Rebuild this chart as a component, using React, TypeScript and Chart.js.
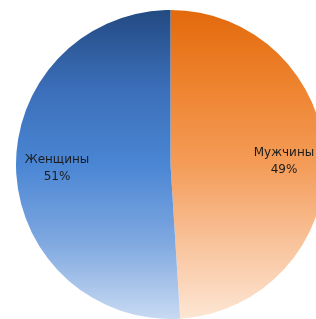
import React, { useEffect, useRef } from "react";
import { Chart, registerables } from "chart.js";

Chart.register(...registerables);

const categories = ["Мужчины", "Женщины"];
const values = [49, 51];
const percentLabels = ["49%", "51%"];

const gradientStops = [
  ["#E3690B", "#EE8430", "#F49C58", "#F8C29A", "#FDE6D4"],
  ["#234A82", "#3B6EB8", "#4A86D4", "#7FA8E0", "#C8DAF2"],
];

const labelPlugin = {
  id: "sliceLabels",
  afterDatasetsDraw(chart: any) {
    const { ctx } = chart;
    const meta = chart.getDatasetMeta(0);
    ctx.save();
    ctx.font = "12px 'DejaVu Sans', Verdana, sans-serif";
    ctx.fillStyle = "#1C1C1C";
    ctx.textAlign = "center";
    ctx.textBaseline = "middle";
    meta.data.forEach((arc: any, i: number) => {
      const p = arc.getProps(["x", "y", "startAngle", "endAngle", "outerRadius"], true);
      const mid = (p.startAngle + p.endAngle) / 2;
      const r = p.outerRadius * 0.735;
      const x = p.x + Math.cos(mid) * r;
      const y = p.y + Math.sin(mid) * r;
      ctx.fillText(categories[i], x, y - 8);
      ctx.fillText(percentLabels[i], x, y + 9);
    });
    ctx.restore();
  },
};

export default function App() {
  const ref = useRef<HTMLCanvasElement>(null);
  useEffect(() => {
    document.documentElement.style.overflow = "hidden";
    document.body.style.margin = "0";
    const canvas = ref.current!;
    const chart = new Chart(canvas, {
      type: "pie",
      data: {
        labels: categories,
        datasets: [
          {
            data: values,
            borderWidth: 0,
            backgroundColor: (c: any) => {
              const area = c.chart.chartArea;
              if (!area) return "#888";
              const g = c.chart.ctx.createLinearGradient(0, area.top, 0, area.bottom);
              const stops = gradientStops[c.dataIndex % 2];
              stops.forEach((s, k) => g.addColorStop(k / (stops.length - 1), s));
              return g;
            },
          },
        ],
      },
      options: {
        responsive: false,
        animation: false,
        layout: { padding: 0 },
        plugins: { legend: { display: false }, tooltip: { enabled: false } },
      },
      plugins: [labelPlugin],
    });
    return () => chart.destroy();
  }, []);
  return (
    <div style={{ position: "fixed", left: 0, top: 0, width: 316, height: 319, overflow: "hidden", background: "#fff" }}>
      <canvas ref={ref} width={309} height={309} style={{ position: "absolute", left: 16, top: 10, width: 309, height: 309 }} />
    </div>
  );
}
